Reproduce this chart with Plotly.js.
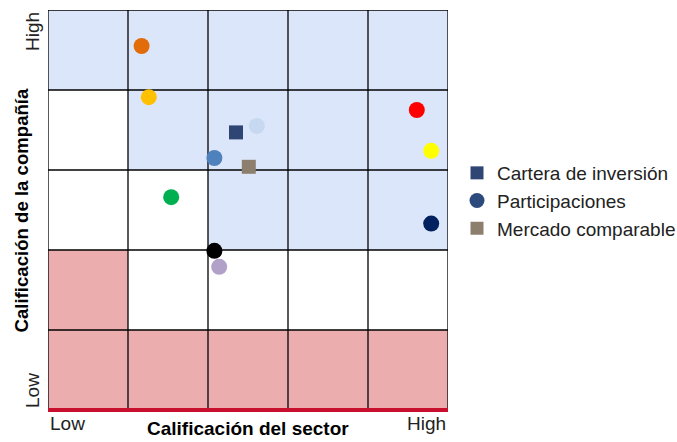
<!DOCTYPE html>
<html>
<head>
<meta charset="utf-8">
<script src="https://cdn.plot.ly/plotly-3.0.1.min.js"></script>
<style>html,body{margin:0;padding:0;background:#fff;}#chart{width:677px;height:442px;}</style>
</head>
<body>
<div id="chart"></div>
<script>
// Data (scale 0..5 on both axes)
const partX = [1.17, 1.26, 4.61, 4.79, 2.61, 2.08, 1.54, 4.79, 2.08, 2.14];
const partY = [4.55, 3.91, 3.75, 3.24, 3.55, 3.15, 2.66, 2.33, 1.99, 1.79];
const partColors = ['#e36c0a','#ffc000','#ff0000','#ffff00','#c6d9f0','#4f81bd','#00b050','#002060','#000000','#b1a0c7'];
const carteraX = [2.35];
const carteraY = [3.47];
const mercadoX = [2.51];
const mercadoY = [3.04];
const legendNames = ['Cartera de inversión','Participaciones','Mercado comparable'];
const xTickLabels = ['Low','High'];
const yTickLabels = ['Low','High'];
const xTitle = 'Calificación del sector';
const yTitle = 'Calificación de la compañía';
// Cell zones: [col, row] (0-based, row 0 at bottom)
const blueCells = [[0,4],[1,4],[2,4],[3,4],[4,4],[1,3],[2,3],[3,3],[4,3],[2,2],[3,2],[4,2]];
const pinkCells = [[0,1],[0,0],[1,0],[2,0],[3,0],[4,0]];

const FONT = 'Liberation Sans, Arial, sans-serif';
const shapes = [];
blueCells.forEach(c => shapes.push({type:'rect',xref:'x',yref:'y',x0:c[0],x1:c[0]+1,y0:c[1],y1:c[1]+1,fillcolor:'#dce6fa',line:{width:0},layer:'below'}));
pinkCells.forEach(c => shapes.push({type:'rect',xref:'x',yref:'y',x0:c[0],x1:c[0]+1,y0:c[1],y1:c[1]+1,fillcolor:'#ebadad',line:{width:0},layer:'below'}));
for (let i = 0; i <= 5; i++) {
  shapes.push({type:'line',xref:'x',yref:'y',x0:i,x1:i,y0:0,y1:5,line:{color:'#000',width:1.3},layer:'below'});
  shapes.push({type:'line',xref:'x',yref:'y',x0:0,x1:5,y0:i,y1:i,line:{color:'#000',width:1.3},layer:'below'});
}
shapes.push({type:'line',xref:'paper',yref:'paper',x0:0,x1:1,y0:0,y1:0,line:{color:'#c8102e',width:4},layer:'above'});

const traces = [
  {type:'scatter',mode:'markers',x:partX,y:partY,marker:{size:16,color:partColors,symbol:'circle'},showlegend:false,hoverinfo:'skip',cliponaxis:false},
  {type:'scatter',mode:'markers',x:carteraX,y:carteraY,marker:{size:14,color:'#2f4675',symbol:'square'},showlegend:false,hoverinfo:'skip'},
  {type:'scatter',mode:'markers',x:mercadoX,y:mercadoY,marker:{size:14,color:'#8c7f6e',symbol:'square'},showlegend:false,hoverinfo:'skip'},
  {type:'scatter',mode:'markers',x:[null],y:[null],name:legendNames[0],marker:{size:13,color:'#2f4675',symbol:'square'}},
  {type:'scatter',mode:'markers',x:[null],y:[null],name:legendNames[1],marker:{size:15,color:'#2d4a7c',symbol:'circle'}},
  {type:'scatter',mode:'markers',x:[null],y:[null],name:legendNames[2],marker:{size:13,color:'#8c7f6e',symbol:'square'}}
];

const layout = {
  width:677, height:442,
  margin:{l:48,r:229,t:10,b:32,autoexpand:false},
  paper_bgcolor:'#fff', plot_bgcolor:'#fff',
  font:{family:FONT,size:18,color:'#222'},
  xaxis:{range:[0,5],showgrid:false,zeroline:false,showticklabels:false,ticks:'',fixedrange:true},
  yaxis:{range:[0,5],showgrid:false,zeroline:false,showticklabels:false,ticks:'',fixedrange:true},
  shapes:shapes,
  showlegend:true,
  legend:{x:1.0225,y:0.64,xanchor:'left',yanchor:'top',font:{family:FONT,size:19,color:'#222'},bgcolor:'rgba(0,0,0,0)',itemsizing:'trace',tracegroupgap:0},
  annotations:[
    {xref:'paper',yref:'paper',x:0,y:0,xanchor:'left',yanchor:'top',yshift:-1,text:xTickLabels[0],showarrow:false,font:{family:FONT,size:19,color:'#222'}},
    {xref:'paper',yref:'paper',x:1,y:0,xanchor:'right',yanchor:'top',yshift:-1,text:xTickLabels[1],showarrow:false,font:{family:FONT,size:19,color:'#222'}},
    {xref:'paper',yref:'paper',x:0,y:0,xanchor:'right',yanchor:'bottom',xshift:-3,text:yTickLabels[0],textangle:-90,showarrow:false,font:{family:FONT,size:19,color:'#222'}},
    {xref:'paper',yref:'paper',x:0,y:1,xanchor:'right',yanchor:'top',xshift:-3,text:yTickLabels[1],textangle:-90,showarrow:false,font:{family:FONT,size:19,color:'#222'}},
    {xref:'paper',yref:'paper',x:0.5,y:0,xanchor:'center',yanchor:'top',yshift:-6,text:'<b>'+xTitle+'</b>',showarrow:false,font:{family:FONT,size:19,color:'#000'}},
    {xref:'paper',yref:'paper',x:0,y:0.5,xanchor:'right',yanchor:'middle',xshift:-15,text:'<b>'+yTitle+'</b>',textangle:-90,showarrow:false,font:{family:FONT,size:18.6,color:'#000'}}
  ]
};
Plotly.newPlot('chart', traces, layout, {staticPlot:true, displayModeBar:false});
</script>
</body>
</html>
